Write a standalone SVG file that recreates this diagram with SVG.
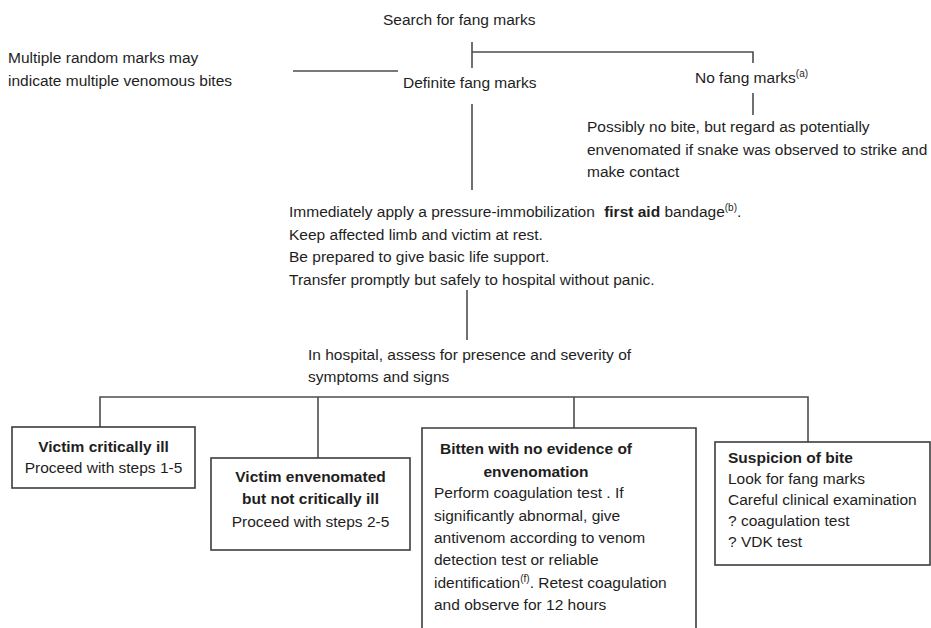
<svg xmlns="http://www.w3.org/2000/svg" width="931" height="628" viewBox="0 0 931 628">
  <style>
    text { font-family: "Liberation Sans", Arial, sans-serif; font-size: 15.5px; fill: #1e1e1e; }
    .b { font-weight: bold; }
    .mid { text-anchor: middle; }
    .sup { font-size: 10px; }
    .link { fill: none; stroke: #4d4d4d; stroke-width: 1.6; }
    .box { fill: #ffffff; stroke: #3c3c3c; stroke-width: 1.6; }
  </style>
  <rect width="931" height="628" fill="#ffffff"/>

  <!-- connectors -->
  <g id="connectors" class="link">
    <path d="M472,42 V68"/>
    <path d="M472,52 H753 V63"/>
    <path d="M293,71 H398"/>
    <path d="M753,93 V115"/>
    <path d="M472,104 V190"/>
    <path d="M467,290 V340"/>
    <path d="M100,427 V397 H808 V442"/>
    <path d="M318,397 V458"/>
    <path d="M574,397 V428"/>
  </g>

  <g id="search">
    <text x="383" y="25">Search for fang marks</text>
  </g>

  <g id="multiple-marks">
    <text x="8" y="63">Multiple random marks may</text>
    <text x="8" y="86">indicate multiple venomous bites</text>
  </g>

  <g id="definite">
    <text x="403" y="88">Definite fang marks</text>
  </g>

  <g id="no-fang">
    <text x="695" y="83">No fang marks<tspan class="sup" dy="-6">(a)</tspan></text>
  </g>

  <g id="possibly">
    <text x="587" y="132">Possibly no bite, but regard as potentially</text>
    <text x="587" y="155">envenomated if snake was observed to strike and</text>
    <text x="587" y="177">make contact</text>
  </g>

  <g id="first-aid">
    <text x="289" y="217">Immediately apply a pressure-immobilization <tspan class="b" dx="5">first aid</tspan> bandage<tspan class="sup" dy="-6">(b)</tspan><tspan dy="6">.</tspan></text>
    <text x="289" y="240">Keep affected limb and victim at rest.</text>
    <text x="289" y="262">Be prepared to give basic life support.</text>
    <text x="289" y="285">Transfer promptly but safely to hospital without panic.</text>
  </g>

  <g id="hospital">
    <text x="308" y="360">In hospital, assess for presence and severity of</text>
    <text x="308" y="382">symptoms and signs</text>
  </g>

  <g id="critical">
    <rect class="box" x="12" y="427" width="183" height="61"/>
    <text class="b mid" x="103.5" y="452">Victim critically ill</text>
    <text class="mid" x="103.5" y="473">Proceed with steps 1-5</text>
  </g>

  <g id="envenomated">
    <rect class="box" x="211" y="458" width="199" height="92"/>
    <text class="b mid" x="310.5" y="482">Victim envenomated</text>
    <text class="b mid" x="310.5" y="504">but not critically ill</text>
    <text class="mid" x="310.5" y="527">Proceed with steps 2-5</text>
  </g>

  <g id="no-envenomation">
    <path class="box" d="M422,640 V428 H696 V640"/>
    <text class="b mid" x="536" y="454">Bitten with no evidence of</text>
    <text class="b mid" x="536" y="477">envenomation</text>
    <text x="434" y="498">Perform coagulation test . If</text>
    <text x="434" y="521">significantly abnormal, give</text>
    <text x="434" y="543">antivenom according to venom</text>
    <text x="434" y="565">detection test or reliable</text>
    <text x="434" y="588">identification<tspan class="sup" dy="-6">(f)</tspan><tspan dy="6">. Retest coagulation</tspan></text>
    <text x="434" y="610">and observe for 12 hours</text>
  </g>

  <g id="suspicion">
    <rect class="box" x="715" y="442" width="215" height="123"/>
    <text class="b" x="728" y="463">Suspicion of bite</text>
    <text x="728" y="484">Look for fang marks</text>
    <text x="728" y="505">Careful clinical examination</text>
    <text x="728" y="526">? coagulation test</text>
    <text x="728" y="547">? VDK test</text>
  </g>
</svg>
